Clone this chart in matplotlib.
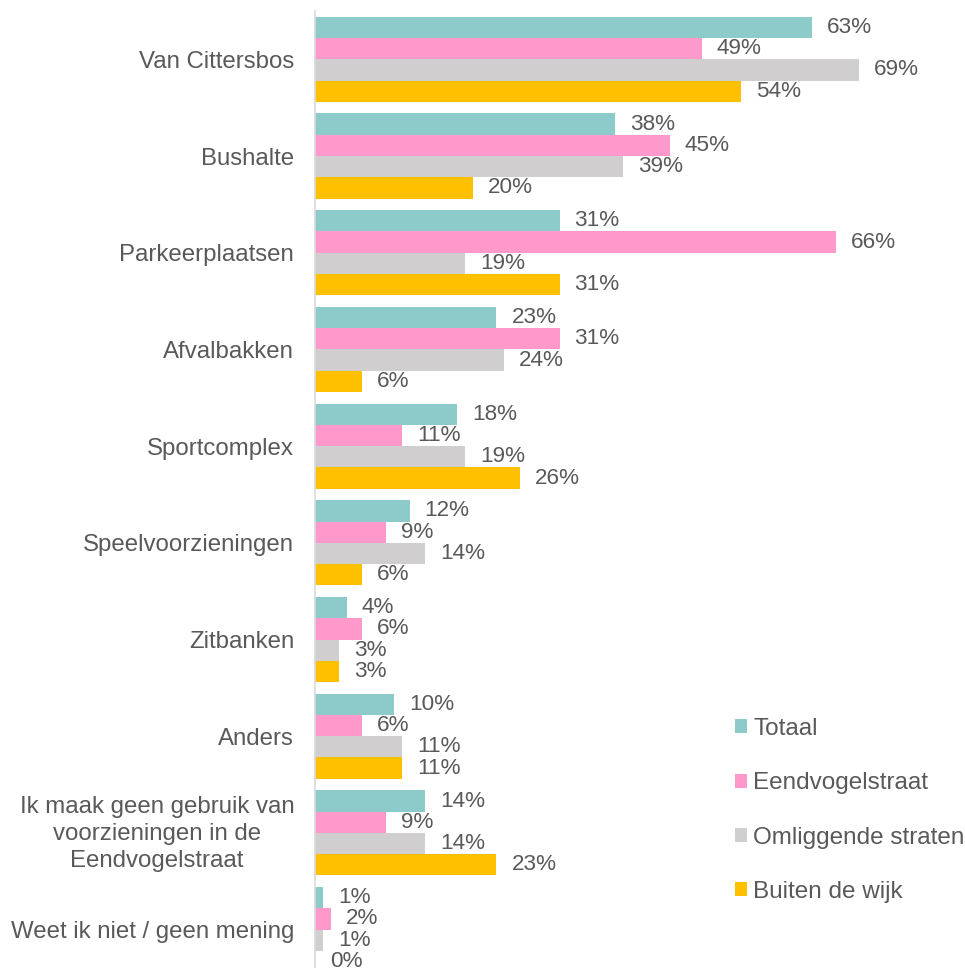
import numpy as np
import matplotlib.pyplot as plt
import matplotlib.transforms as mtransforms

plt.rcParams['font.family'] = ['Liberation Sans', 'DejaVu Sans']

#categories top to bottom
categories = ["Van Cittersbos", "Bushalte", "Parkeerplaatsen", "Afvalbakken",
              "Sportcomplex", "Speelvoorzieningen", "Zitbanken", "Anders",
              "Ik maak geen gebruik van\nvoorzieningen in de\nEendvogelstraat",
              "Weet ik niet / geen mening"]

series_names = ["Totaal", "Eendvogelstraat", "Omliggende straten", "Buiten de wijk"]

totaal = [63, 38, 31, 23, 18, 12, 4, 10, 14, 1]
eendvogelstraat = [49, 45, 66, 31, 11, 9, 6, 6, 9, 2]
omliggende = [69, 39, 19, 24, 19, 14, 3, 11, 14, 1]
buiten = [54, 20, 31, 6, 26, 6, 3, 11, 23, 0]

colors = ["#8CCBC9", "#FF99CC", "#D0CECE", "#FFC000"]
text_color = "#595959"

fig = plt.figure(figsize=(9.65, 9.68), dpi=100)
ax = fig.add_axes([315 / 965, 0, 650 / 965, 957 / 968])

y = np.arange(len(categories))
bar_h = 0.22
all_series = [totaal, eendvogelstraat, omliggende, buiten]

for i, (vals, col, name) in enumerate(zip(all_series, colors, series_names)):
    pos = y + (i - 1.5) * bar_h
    ax.barh(pos, vals, height=bar_h, color=col, label=name, linewidth=0)
    for p, v in zip(pos, vals):
        ax.annotate(f"{v}%", (v, p), xytext=(10.8, 0), textcoords="offset points",
                    ha="left", va="center", fontsize=16.2, color=text_color)

ax.set_xlim(0, 82.4)
ax.set_ylim(9.397, -0.5)

ax.set_yticks(y)
ax.set_yticklabels(categories, fontsize=17.3, color=text_color,
                   multialignment="center", linespacing=1.3)
ax.tick_params(axis="y", length=0, pad=15)
ax.set_xticks([])

#nudge the three-line label up a bit
shift = mtransforms.ScaledTranslation(0, 4 / 100, fig.dpi_scale_trans)
lbl = ax.get_yticklabels()[8]
lbl.set_transform(lbl.get_transform() + shift)

for s in ["top", "right", "bottom"]:
    ax.spines[s].set_visible(False)
ax.spines["left"].set_color("#D9D9D9")
ax.spines["left"].set_linewidth(1.2)

leg = fig.legend(loc="upper left", bbox_to_anchor=(735 / 965, 1 - 718 / 968),
                 frameon=False, fontsize=17.5, handlelength=0.5, handleheight=0.5,
                 handletextpad=0.25, labelspacing=1.33, borderpad=0, borderaxespad=0)
for t in leg.get_texts():
    t.set_color(text_color)

plt.savefig("out.png", dpi=100)
